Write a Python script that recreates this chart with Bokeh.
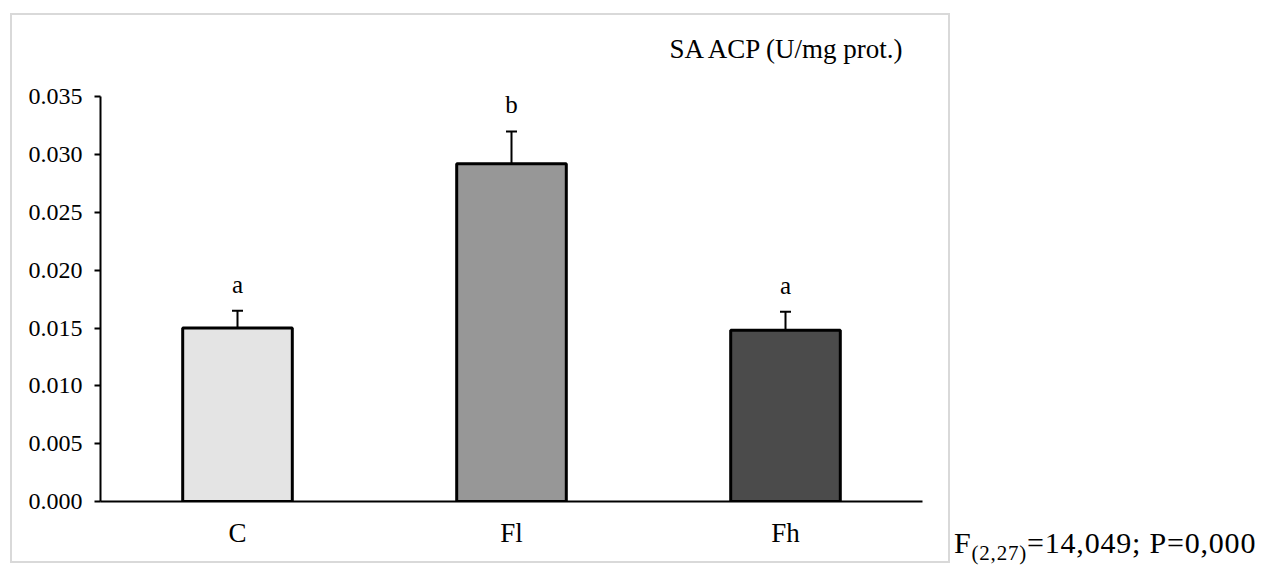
from bokeh.plotting import figure
from bokeh.models import (FactorRange, ColumnDataSource, Whisker, TeeHead, Label,
                          FixedTicker, NumeralTickFormatter, Div, LabelSet, Range1d)
from bokeh.layouts import row
from bokeh.embed import file_html
from bokeh.resources import INLINE

categories = ["C", "Fl", "Fh"]
means = [0.0150, 0.0292, 0.0148]
errors = [0.0015, 0.0028, 0.0016]
letters = ["a", "b", "a"]
colors = ["#e4e4e4", "#979797", "#4b4b4b"]
y_ticks = [0.0, 0.005, 0.010, 0.015, 0.020, 0.025, 0.030, 0.035]
title_text = "SA ACP (U/mg prot.)"
stat_html = "F<sub style='font-size:21px'>(2,27)</sub>=14,049; P=0,000"

FONT = "Liberation Serif"

src = ColumnDataSource(dict(
    cat=categories,
    mean=means,
    upper=[m + e for m, e in zip(means, errors)],
    letter=letters,
    color=colors,
))

# extra head-room above the axis holds the chart's title inside the frame
p = figure(x_range=FactorRange(*categories, range_padding=0),
           y_range=Range1d(0, 0.0415),
           width=940, height=550,
           output_backend="svg", toolbar_location=None,
           min_border_left=88, min_border_right=30,
           min_border_top=6, min_border_bottom=64)
p.margin = (13, 0, 0, 10)
p.styles = {"border": "2px solid #d9d9d9"}
p.outline_line_color = None
p.xgrid.grid_line_color = None
p.ygrid.grid_line_color = None
p.background_fill_color = "white"
p.border_fill_color = "white"

p.vbar(x="cat", top="mean", bottom=0, width=0.4, source=src,
       fill_color="color", line_color="black", line_width=3)

wh = Whisker(base="cat", lower="mean", upper="upper", source=src,
             dimension="height", line_color="black", line_width=2,
             upper_head=TeeHead(size=11, line_color="black", line_width=2),
             lower_head=None)
p.add_layout(wh)

labels = LabelSet(x="cat", y="upper", text="letter", source=src,
                  y_offset=18, text_align="center", text_baseline="alphabetic",
                  text_font=FONT, text_font_size="25px", text_color="black")
p.add_layout(labels)

# x = 3.0 is the right end of the three-slot categorical range
title_label = Label(x=float(len(categories)), y=y_ticks[-1], x_offset=-16, y_offset=48,
                    text=title_text, text_align="right", text_baseline="middle",
                    text_font=FONT, text_font_size="27px", text_color="black")
p.add_layout(title_label)

p.yaxis.ticker = FixedTicker(ticks=y_ticks)
p.yaxis.bounds = (y_ticks[0], y_ticks[-1])
p.yaxis.formatter = NumeralTickFormatter(format="0.000")
p.yaxis.minor_tick_line_color = None
p.yaxis.major_tick_in = 0
p.yaxis.major_tick_out = 6
p.yaxis.major_tick_line_width = 2
p.yaxis.axis_line_width = 2
p.yaxis.major_label_standoff = 12
p.yaxis.major_label_text_font = FONT
p.yaxis.major_label_text_font_size = "24px"
p.yaxis.major_label_text_color = "black"

p.xaxis.major_tick_line_color = None
p.xaxis.minor_tick_line_color = None
p.xaxis.axis_line_width = 2
p.xaxis.major_label_standoff = 10
p.xaxis.major_label_text_font = FONT
p.xaxis.major_label_text_font_size = "27px"
p.xaxis.major_label_text_color = "black"

div = Div(text="<span style=\"font-family:'Liberation Serif'; font-size:30px; "
               "letter-spacing:0.8px; white-space:nowrap; color:black\">" + stat_html + "</span>",
          width=306, height=42, margin=(522, 0, 0, 4))

layout = row(p, div)
open("out.html", "w").write(file_html(layout, INLINE))
